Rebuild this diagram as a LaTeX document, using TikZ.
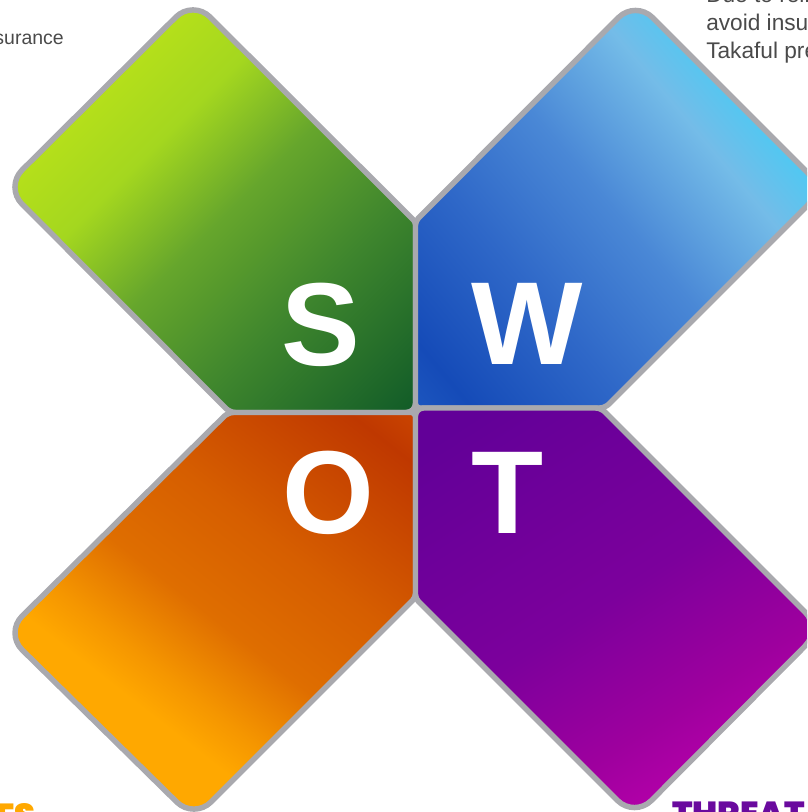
\documentclass[tikz,border=0pt]{standalone}
\usepackage{fontspec}
\setmainfont{Liberation Sans}
\newfontfamily\heavyfont{Poppins Black}
\usepackage{xcolor}
\usetikzlibrary{calc}
\definecolor{armgrey}{HTML}{A9A9AE}
\definecolor{bodygrey}{HTML}{4A4A4A}
\definecolor{oppcolor}{HTML}{FFA800}
\definecolor{thrcolor}{HTML}{6A0A9E}
\definecolor{g1}{HTML}{B6E01A}\definecolor{g2}{HTML}{A4D71F}\definecolor{g3}{HTML}{66A62C}\definecolor{g4}{HTML}{3F862D}\definecolor{g5}{HTML}{125C28}
\definecolor{b1}{HTML}{1C55BE}\definecolor{b2}{HTML}{154BB8}\definecolor{b3}{HTML}{2F68C8}\definecolor{b4}{HTML}{4A88D6}\definecolor{b5}{HTML}{74BCE8}\definecolor{b6}{HTML}{50C8F2}
\definecolor{o1}{HTML}{FFA800}\definecolor{o2}{HTML}{F59600}\definecolor{o3}{HTML}{DF6E00}\definecolor{o4}{HTML}{D65E00}\definecolor{o5}{HTML}{BF3800}\definecolor{o6}{HTML}{C84200}
\definecolor{p1}{HTML}{620098}\definecolor{p2}{HTML}{7C009C}\definecolor{p3}{HTML}{9E009E}\definecolor{p4}{HTML}{B200A8}
\pgfdeclareverticalshading{strengthshade}{100bp}{color(0bp)=(g1); color(30bp)=(g1); color(40bp)=(g2); color(52bp)=(g3); color(66bp)=(g4); color(85bp)=(g5); color(100bp)=(g5)}
\pgfdeclareverticalshading{weaknessshade}{100bp}{color(0bp)=(b1); color(15bp)=(b1); color(20bp)=(b2); color(35bp)=(b3); color(49bp)=(b4); color(63bp)=(b5); color(70bp)=(b6); color(100bp)=(b6)}
\pgfdeclareverticalshading{opportunityshade}{100bp}{color(0bp)=(o1); color(36bp)=(o1); color(41bp)=(o2); color(50bp)=(o3); color(62bp)=(o4); color(80bp)=(o5); color(84bp)=(o6); color(100bp)=(o6)}
\pgfdeclareverticalshading{threatshade}{100bp}{color(0bp)=(p1); color(20bp)=(p1); color(48bp)=(p2); color(64bp)=(p3); color(72bp)=(p4); color(100bp)=(p4)}
\tikzstyle{armline}=[draw=armgrey, line width=4.1pt, line join=round, shade]
\tikzstyle{bigletter}=[text=white, font=\fontsize{88.5}{90}\selectfont\bfseries, inner sep=0pt, anchor=base]
\tikzstyle{bodytext}=[text=bodygrey, inner sep=0pt]
\tikzstyle{headtext}=[font=\fontsize{25}{27}\heavyfont, inner sep=0pt]
\newcommand{\apexR}{18pt}

\begin{document}
\begin{tikzpicture}[x=0.75pt,y=-0.75pt]
\clip (0,0) rectangle (807,812);
% arm corners, px from top left
\coordinate (sc) at (415.5,412.5);
\coordinate (sr) at (415.5,222);
\coordinate (st) at (193,0);
\coordinate (sl) at (5,187);
\coordinate (sb) at (230,412.5);
\coordinate (wc) at (415.5,408);
\coordinate (wl) at (415.5,221);
\coordinate (wt) at (635.5,0.5);
\coordinate (wr) at (824,189);
\coordinate (wb) at (605,408);
\coordinate (oc) at (415.5,412.5);
\coordinate (ot) at (228,412.5);
\coordinate (ol) at (5,633);
\coordinate (ob) at (194,819);
\coordinate (or) at (415.5,597.5);
\coordinate (tc) at (415.5,408);
\coordinate (tt) at (601,408);
\coordinate (tr) at (822,629);
\coordinate (tb) at (634.5,817.5);
\coordinate (tl) at (415.5,598.5);
% the four arms
\path[armline, shading=strengthshade, shading angle=225] ($(sb)!.5!(sc)$) [rounded corners=7pt] -- (sc) [rounded corners=2pt] -- (sr) [rounded corners=\apexR] -- (st) -- (sl) [rounded corners=4pt] -- (sb) -- cycle;
\path[armline, shading=weaknessshade, shading angle=310] ($(wc)!.5!(wb)$) [rounded corners=4pt] -- (wb) [rounded corners=\apexR] -- (wr) -- (wt) [rounded corners=3pt] -- (wl) -- (wc) -- cycle;
\path[armline, shading=opportunityshade, shading angle=322] ($(ot)!.5!(oc)$) [rounded corners=4pt] -- (ot) [rounded corners=\apexR] -- (ol) -- (ob) [rounded corners=3pt] -- (or) -- (oc) -- cycle;
\path[armline, shading=threatshade, shading angle=213] ($(tc)!.5!(tt)$) [rounded corners=4pt] -- (tt) [rounded corners=\apexR] -- (tr) -- (tb) [rounded corners=3pt] -- (tl) [rounded corners=6pt] -- (tc) -- cycle;
% letters
\node[bigletter] (sletter) at (320.5,365) {S};
\node[bigletter] (wletter) at (527.5,364.5) {W};
\node[bigletter] (oletter) at (328,533) {O};
\node[bigletter] (tletter) at (508,533) {T};
% cut off texts
\node[bodytext, anchor=base east, font=\fontsize{14.6}{16}\selectfont] (lefttext) at (64,45) {surance};
\foreach \n/\y/\t in {a/3/Due to reli,b/31/avoid insu,c/59/Takaful pre}
	\node[bodytext, anchor=base west, font=\fontsize{17}{19}\selectfont] (right\n) at (706,\y) {\t};
\node[headtext, text=oppcolor, anchor=base east] (opphead) at (36,827) {ES};
\node[headtext, text=thrcolor, anchor=base west] (thrhead) at (672,825) {THREAT};
\end{tikzpicture}
\end{document}
